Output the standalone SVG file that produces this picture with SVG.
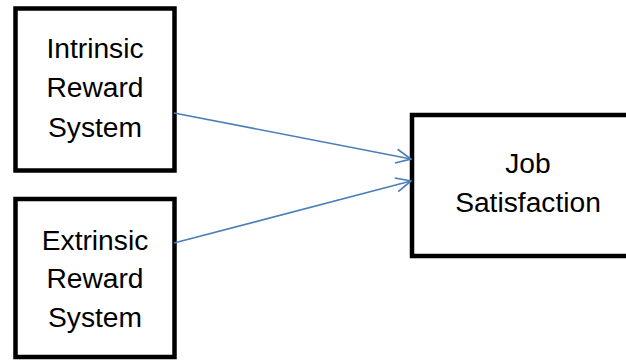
<svg xmlns="http://www.w3.org/2000/svg" width="626" height="360" viewBox="0 0 626 360">
<style>
.box{fill:#fff;stroke:#000;stroke-width:4.5}
.t{font-family:"Liberation Sans",Arial,sans-serif;font-size:28.2px;fill:#000;text-anchor:middle}
.c{fill:none;stroke:#4a7ebb;stroke-width:1.6}
</style>
<defs>
<marker id="ah" viewBox="0 0 18 18" refX="17" refY="9" markerWidth="18" markerHeight="18" markerUnits="userSpaceOnUse" orient="auto">
<path d="M2,2 L17,9 L2,16" fill="none" stroke="#4a7ebb" stroke-width="1.7"/>
</marker>
</defs>
<rect width="626" height="360" fill="#fff"/>
<g id="intrinsic">
<rect class="box" x="15.5" y="8.5" width="159" height="162"/>
<text class="t" x="95" y="58">Intrinsic</text>
<text class="t" x="95" y="97">Reward</text>
<text class="t" x="95" y="137">System</text>
</g>
<g id="extrinsic">
<rect class="box" x="15.5" y="199" width="159" height="158"/>
<text class="t" x="95" y="250">Extrinsic</text>
<text class="t" x="95" y="288">Reward</text>
<text class="t" x="95" y="327">System</text>
</g>
<g id="job">
<rect class="box" x="412" y="115" width="240" height="141"/>
<text class="t" x="528" y="173">Job</text>
<text class="t" x="528" y="212">Satisfaction</text>
</g>
<g id="connectors">
<line class="c" x1="174" y1="113" x2="411" y2="159" marker-end="url(#ah)"/>
<line class="c" x1="174" y1="243" x2="411" y2="181" marker-end="url(#ah)"/>
</g>
</svg>
